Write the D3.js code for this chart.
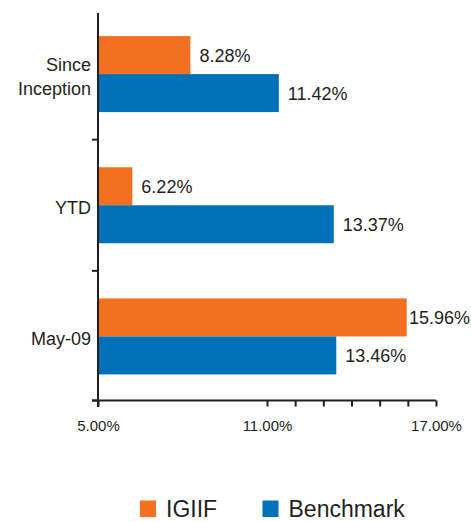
<!DOCTYPE html>
<html>
<head>
<meta charset="utf-8">
<script src="https://cdn.jsdelivr.net/npm/d3@7"></script>
<style>
  html, body { margin: 0; padding: 0; background: #fff; }
  svg { display: block; font-family: "Liberation Sans", Arial, Helvetica, sans-serif; }
</style>
</head>
<body>
<svg id="chart" width="471" height="522"></svg>
<script>
// ---- data ----
const categories = ["Since Inception", "YTD", "May-09"];
const seriesNames = ["IGIIF", "Benchmark"];
const igiif = [8.28, 6.22, 15.96];
const benchmark = [11.42, 13.37, 13.46];
const tickValues = [5, 11, 12, 13, 14, 15, 16, 17];
const tickLabels = ["5.00%", "11.00%", "17.00%"];

const colors = ["#F37021", "#0070B8"];
const textColor = "#231F20";

const svg = d3.select("#chart");

const x = d3.scaleLinear().domain([5, 17]).range([98, 436]);
const y = d3.scaleBand().domain(categories).range([8.5, 402]);
const sub = d3.scaleBand().domain(seriesNames).range([0, 76]);
const groupOffset = (y.bandwidth() - 76) / 2;

const series = [igiif, benchmark];

// bars
seriesNames.forEach((name, si) => {
  const g = svg.append("g");
  g.selectAll("rect").data(categories).join("rect")
    .attr("x", x(5))
    .attr("y", c => y(c) + groupOffset + sub(name))
    .attr("width", (c, i) => x(series[si][i]) - x(5))
    .attr("height", sub.bandwidth())
    .attr("fill", colors[si]);
  g.selectAll("text").data(categories).join("text")
    .attr("x", (c, i) => x(series[si][i]) + 9)
    .attr("y", c => y(c) + groupOffset + sub(name) + sub.bandwidth() / 2)
    .attr("dy", "0.36em")
    .attr("font-size", 18)
    .attr("fill", textColor)
    .text((c, i) => series[si][i].toFixed(2) + "%")
    .each(function () {
      const w = this.getComputedTextLength();
      const cx = +this.getAttribute("x");
      if (cx + w > 470) this.setAttribute("x", 470 - w);
    });
});

// y axis line
svg.append("line")
  .attr("x1", x(5)).attr("x2", x(5))
  .attr("y1", 13).attr("y2", 407)
  .attr("stroke", textColor).attr("stroke-width", 2);

// y axis ticks at band boundaries
const bounds = categories.slice(1).map(c => y(c)).concat([400.5]);
svg.selectAll(".ytick").data(bounds).join("line")
  .attr("class", "ytick")
  .attr("x1", x(5) - 6).attr("x2", x(5))
  .attr("y1", d => d).attr("y2", d => d)
  .attr("stroke", textColor).attr("stroke-width", 2);

// category labels
categories.forEach(c => {
  const words = c === "Since Inception" ? ["Since", "Inception"] : [c];
  const t = svg.append("text")
    .attr("text-anchor", "end")
    .attr("font-size", 18)
    .attr("fill", textColor);
  const cy = y(c) + y.bandwidth() / 2 + 2;
  const lh = 24;
  words.forEach((w, i) => {
    t.append("tspan")
      .attr("x", 91)
      .attr("y", cy + (i - (words.length - 1) / 2) * lh)
      .attr("dy", "0.36em")
      .text(w);
  });
});

// x axis
const xAxis = d3.axisBottom(x)
  .tickValues(tickValues)
  .tickSize(6)
  .tickSizeOuter(0)
  .tickFormat(d => {
    const s = d.toFixed(2) + "%";
    return tickLabels.includes(s) ? s : "";
  });
const gx = svg.append("g")
  .attr("transform", "translate(0,400.5)")
  .call(xAxis);
gx.select(".domain").remove();
gx.selectAll(".tick line").attr("stroke", textColor).attr("stroke-width", 2);
gx.selectAll(".tick text")
  .attr("y", 25).attr("dy", "0.36em")
  .attr("font-size", 15)
  .attr("font-family", "'Liberation Sans', Arial, sans-serif")
  .attr("fill", textColor);
svg.append("line")
  .attr("x1", 92).attr("x2", x(17))
  .attr("y1", 400.5).attr("y2", 400.5)
  .attr("stroke", textColor).attr("stroke-width", 2);

// legend
const legendX = [140, 262.5];
const lg = svg.selectAll(".legend").data(seriesNames).join("g")
  .attr("class", "legend")
  .attr("transform", (d, i) => `translate(${legendX[i]},500.5)`);
lg.append("rect")
  .attr("width", 16).attr("height", 16.5)
  .attr("fill", (d, i) => colors[i]);
lg.append("text")
  .attr("x", 26).attr("y", 16.5)
  .attr("font-size", 23)
  .attr("fill", textColor)
  .text(d => d);
</script>
</body>
</html>
